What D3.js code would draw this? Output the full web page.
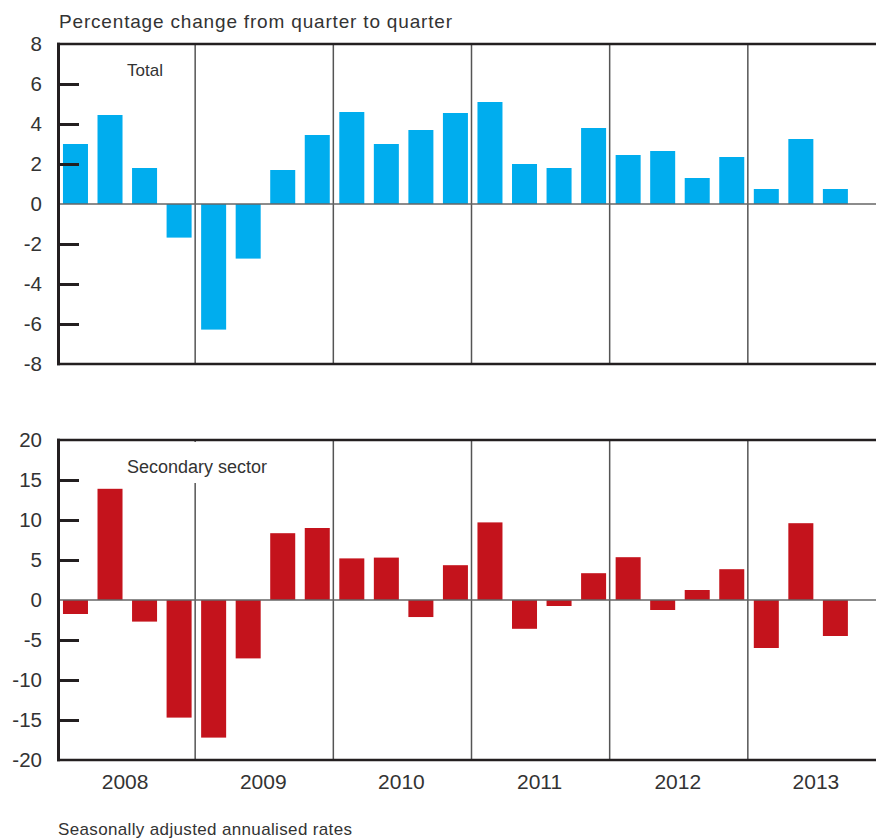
<!DOCTYPE html>
<html>
<head>
<meta charset="utf-8">
<script src="https://cdn.jsdelivr.net/npm/d3@7"></script>
<style>
  html, body { margin: 0; padding: 0; background: #fff; }
  svg { display: block; }
  text { font-family: "Liberation Sans", Arial, Helvetica, sans-serif; fill: #333; }
</style>
</head>
<body>
<svg id="chart" width="876" height="838"></svg>
<script>
// ---- Data ----
const years = ["2008", "2009", "2010", "2011", "2012", "2013"];
const quarters = years.flatMap(y => ["Q1", "Q2", "Q3", "Q4"].map(q => y + q));
const totalValues = [3.0, 4.45, 1.8, -1.68, -6.28, -2.73, 1.7, 3.45, 4.6, 3.0, 3.7, 4.55,
                     5.1, 2.0, 1.8, 3.8, 2.45, 2.65, 1.3, 2.35, 0.75, 3.25, 0.75];
const secondaryValues = [-1.75, 13.9, -2.7, -14.7, -17.2, -7.3, 8.35, 9.0, 5.2, 5.3, -2.13, 4.35,
                         9.7, -3.6, -0.75, 3.35, 5.35, -1.25, 1.25, 3.85, -6.0, 9.6, -4.5];
const totalTicks = [8, 6, 4, 2, 0, -2, -4, -6, -8];
const secondaryTicks = [20, 15, 10, 5, 0, -5, -10, -15, -20];

const titleText = "Percentage change from quarter to quarter";
const footerText = "Seasonally adjusted annualised rates";
const panelLabels = ["Total", "Secondary sector"];
const colors = ["#00adee", "#c4131c"];

// ---- Layout ----
const svg = d3.select("#chart");
const left = 57, plotRight = 886, svgW = 876;

const xYear = d3.scaleBand().domain(years).range([left, plotRight]).padding(0);
const xQ = d3.scaleBand().domain(quarters).range([left + 1.2, plotRight + 1.2])
  .paddingInner(0.276).paddingOuter(0.138);

const panels = [
  { values: totalValues, ticks: totalTicks, top: 44, bottom: 364, label: panelLabels[0], color: colors[0] },
  { values: secondaryValues, ticks: secondaryTicks, top: 440, bottom: 760, label: panelLabels[1], color: colors[1] }
];

svg.append("text")
  .attr("x", 59).attr("y", 28)
  .attr("font-size", 19)
  .attr("textLength", 393).attr("lengthAdjust", "spacing")
  .text(titleText);

panels.forEach((p, pi) => {
  const ext = d3.extent(p.ticks);
  const y = d3.scaleLinear().domain(ext).range([p.bottom, p.top]);
  const g = svg.append("g");

  // year dividers
  g.selectAll("line.div").data(years.slice(1)).join("line")
    .attr("x1", d => xYear(d)).attr("x2", d => xYear(d))
    .attr("y1", p.top).attr("y2", p.bottom)
    .attr("stroke", "#555").attr("stroke-width", 1.5);

  // panel label with white background
  const lbl = g.append("g");
  const t = lbl.append("text")
    .attr("x", 127).attr("y", p.top + (pi === 0 ? 32 : 33))
    .attr("font-size", pi === 0 ? 17 : 18)
    .text(p.label);
  const bb = t.node().getBBox();
  lbl.insert("rect", "text")
    .attr("x", bb.x - 6).attr("y", p.top + 2)
    .attr("width", bb.width + 12).attr("height", bb.y + bb.height - p.top + 4)
    .attr("fill", "#fff");

  // bars
  g.selectAll("rect.bar").data(p.values).join("rect")
    .attr("class", "bar")
    .attr("x", (d, i) => xQ(quarters[i]))
    .attr("width", xQ.bandwidth())
    .attr("y", d => y(Math.max(0, d)))
    .attr("height", d => Math.abs(y(d) - y(0)))
    .attr("fill", p.color);

  // zero line
  g.append("line")
    .attr("x1", left).attr("x2", svgW)
    .attr("y1", y(0)).attr("y2", y(0))
    .attr("stroke", "#666").attr("stroke-width", 1.5);

  // frame
  [p.top, p.bottom].forEach(yy => {
    g.append("line").attr("x1", left).attr("x2", svgW)
      .attr("y1", yy).attr("y2", yy)
      .attr("stroke", "#231f20").attr("stroke-width", 2.5);
  });
  g.append("line").attr("x1", 58.5).attr("x2", 58.5)
    .attr("y1", p.top - 1.25).attr("y2", p.bottom + 1.25)
    .attr("stroke", "#231f20").attr("stroke-width", 3);

  // inward tick marks
  const inner = p.ticks.filter(v => v !== 0 && v !== ext[0] && v !== ext[1]);
  const tickAxis = d3.axisLeft(y).tickValues(inner).tickSize(-20).tickFormat("");
  const ta = g.append("g").attr("transform", "translate(59,0)").call(tickAxis);
  ta.select(".domain").remove();
  ta.selectAll(".tick line").attr("stroke", "#231f20").attr("stroke-width", 3);

  // labels
  const labelAxis = d3.axisLeft(y).tickValues(p.ticks).tickSize(0).tickPadding(17)
    .tickFormat(d => String(d));
  const la = g.append("g").attr("transform", "translate(59,0)").call(labelAxis);
  la.select(".domain").remove();
  la.selectAll(".tick text")
    .attr("font-family", "Liberation Sans, Arial, sans-serif")
    .attr("font-size", 20.5).attr("fill", "#333");
});

// year labels
svg.append("g").selectAll("text").data(years).join("text")
  .attr("x", d => xYear(d) + xYear.bandwidth() / 2 - 1)
  .attr("y", 789)
  .attr("text-anchor", "middle")
  .attr("font-size", 21)
  .text(d => d);

svg.append("text")
  .attr("x", 58).attr("y", 835)
  .attr("font-size", 17)
  .attr("textLength", 294).attr("lengthAdjust", "spacing")
  .text(footerText);
</script>
</body>
</html>
